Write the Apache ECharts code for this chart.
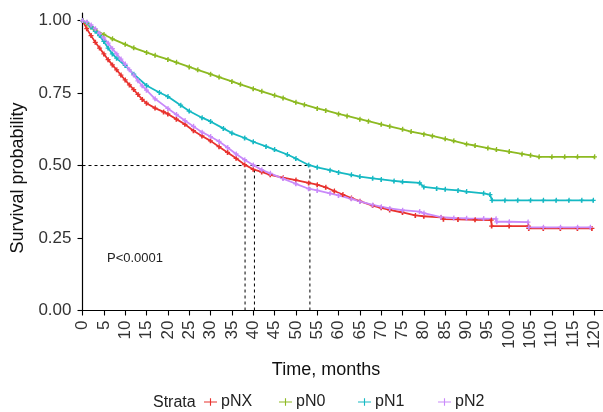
<!DOCTYPE html>
<html>
<head>
<meta charset="utf-8">
<script src="https://cdn.jsdelivr.net/npm/echarts@6/dist/echarts.min.js"></script>
<style>
html,body{margin:0;padding:0;background:#fff;}
#chart{width:603px;height:412px;}
</style>
</head>
<body>
<div id="chart"></div>
<script>
// ---- data (time in months, survival probability) ----
var strata = ['pNX', 'pN0', 'pN1', 'pN2'];
var xTicks = [0,5,10,15,20,25,30,35,40,45,50,55,60,65,70,75,80,85,90,95,100,105,110,115,120];
var yTicks = [0, 0.25, 0.5, 0.75, 1.0];

var pNX = [[0,1.000],[1,0.972],[2,0.948],[3,0.925],[4,0.905],[5,0.885],[6,0.865],[7,0.847],[8,0.830],[9,0.812],[10,0.795],
  [11,0.778],[12,0.762],[13,0.745],[14,0.728],[15,0.715],[17,0.698],[19,0.685],[20,0.678],[22,0.660],[24,0.642],[26,0.620],
  [28,0.602],[30,0.585],[32,0.565],[34,0.545],[36,0.525],[38,0.503],[40,0.487],[42,0.478],[44,0.468],[47,0.458],[50,0.450],
  [53,0.440],[55,0.434],[57,0.425],[59,0.412],[61,0.400],[63,0.388],[65,0.377],[68,0.362],[70,0.354],[72,0.347],[75,0.338],
  [78,0.328],[80,0.325],[84,0.321],[84.6,0.315],[88,0.314],[92,0.313],[95.8,0.312],[95.9,0.291],[100,0.291],[104.5,0.291],
  [104.6,0.283],[108,0.283],[112,0.283],[116,0.283],[119.4,0.283]];

var pN0 = [[0,1.000],[1,0.990],[2,0.978],[3,0.967],[5,0.952],[7,0.937],[10,0.918],[12,0.906],[15,0.890],[17,0.880],[20,0.866],
  [22,0.856],[25,0.840],[27,0.830],[30,0.815],[32,0.805],[35,0.790],[37,0.780],[40,0.765],[42,0.756],[45,0.742],[47,0.733],
  [50,0.718],[52,0.710],[55,0.697],[57,0.690],[60,0.678],[62,0.671],[65,0.660],[67,0.653],[70,0.642],[72,0.635],[75,0.625],
  [77,0.617],[80,0.608],[82,0.602],[85,0.592],[87,0.585],[90,0.574],[92,0.569],[95,0.560],[97,0.555],[100,0.548],[103,0.540],
  [105,0.535],[107,0.530],[110,0.530],[113,0.530],[116,0.530],[120,0.530]];

var pN1 = [[0,1.000],[1,0.993],[2,0.978],[3,0.963],[4,0.948],[5,0.928],[6,0.905],[7,0.885],[8,0.870],[10,0.845],[12,0.815],
  [15,0.776],[18,0.752],[20,0.738],[23,0.708],[25,0.688],[28,0.665],[30,0.652],[33,0.628],[35,0.612],[38,0.595],[40,0.582],
  [43,0.566],[45,0.555],[48,0.538],[50,0.524],[53,0.502],[55,0.494],[58,0.484],[60,0.476],[63,0.468],[65,0.462],[68,0.456],
  [70,0.452],[73,0.447],[75,0.444],[79,0.440],[80,0.426],[83,0.421],[85,0.418],[88,0.414],[90,0.410],[94,0.404],[95.5,0.400],
  [96,0.380],[99,0.380],[102,0.380],[105,0.380],[108,0.380],[111,0.380],[114,0.380],[117,0.380],[119.7,0.380]];

var pN2 = [[0,1.000],[1,0.995],[2,0.985],[3,0.972],[4,0.956],[5,0.940],[6,0.922],[7,0.903],[8,0.885],[9,0.867],[10,0.850],
  [11,0.830],[12,0.812],[13,0.792],[14,0.775],[15,0.760],[17,0.730],[20,0.697],[22,0.676],[24,0.655],[26,0.635],[28,0.615],
  [30,0.600],[32,0.583],[34,0.562],[36,0.540],[38,0.520],[40,0.502],[42,0.485],[44,0.473],[47,0.455],[50,0.437],[53,0.420],
  [55,0.414],[58,0.404],[60,0.397],[63,0.385],[65,0.376],[68,0.364],[70,0.358],[72,0.352],[75,0.346],[79,0.341],[80,0.336],
  [84,0.322],[87,0.319],[90,0.318],[94,0.317],[96.9,0.316],[97.1,0.306],[100,0.306],[104.4,0.305],[104.6,0.287],[108,0.287],
  [112,0.287],[116,0.287],[119,0.287]];

var medians = [38.1, 40.3, 53.3];
var medianLevel = 0.5;
var pText = 'P<0.0001';
// -------------------------------------------------------------------------

var colors = {pNX:'#E8322E', pN0:'#8DBA22', pN1:'#16B9C3', pN2:'#C98AFA'};
var seriesData = {pNX:pNX, pN0:pN0, pN1:pN1, pN2:pN2};
var plusPath = 'path://M3,0h2v3h3v2h-3v3h-3v-3h-3v-2h3z';
var legendIcon = 'path://M0,3.4h14v1.2h-14z M6.4,0h1.2v8h-1.2z';
var FONT = 'Liberation Sans, Arial, Helvetica, sans-serif';

var series = strata.map(function(s){
  return {
    name: s, type:'line', data: seriesData[s],
    showSymbol:true, symbol: plusPath, symbolSize:5,
    itemStyle:{color:colors[s]},
    lineStyle:{color:colors[s], width:1.8},
    emphasis:{disabled:true}, z:3
  };
});

// dashed median guide lines
var maxMed = Math.max.apply(null, medians);
series.push({
  type:'line', data:[[0,medianLevel],[maxMed,medianLevel]], symbol:'none', silent:true,
  lineStyle:{color:'#000', width:1, type:[3,3]}, z:2
});
medians.forEach(function(m){
  series.push({
    type:'line', data:[[m,0],[m,medianLevel]], symbol:'none', silent:true,
    lineStyle:{color:'#000', width:1, type:[3,3]}, z:2
  });
});

var legendLefts = [204, 279, 358, 438];
var legends = strata.map(function(s, i){
  return {
    data:[{name:s, icon:legendIcon}], left: legendLefts[i], top: 394,
    itemWidth:13, itemHeight:8, itemGap:0, padding:0,
    textStyle:{fontFamily:FONT, fontSize:16, color:'#222', padding:[0,0,0,-1]},
    selectedMode:false
  };
});

var chart = echarts.init(document.getElementById('chart'), null, {renderer:'canvas'});
chart.setOption({
  animation:false,
  backgroundColor:'#fff',
  grid:{left:82.5, top:13, width:520.5, height:297.5, containLabel:false},
  xAxis:{
    type:'value', min:0, max:122,
    axisLine:{show:true, lineStyle:{color:'#000', width:1.2}},
    axisTick:{show:true, length:5, lineStyle:{color:'#000', width:1.1}, customValues:xTicks},
    axisLabel:{rotate:90, margin:10, fontFamily:FONT, fontSize:17, color:'#333', customValues:xTicks},
    splitLine:{show:false}
  },
  yAxis:{
    type:'value', min:0, max:1.026,
    axisLine:{show:true, lineStyle:{color:'#000', width:1.2}},
    axisTick:{show:true, length:5, lineStyle:{color:'#000', width:1.1}, customValues:yTicks},
    axisLabel:{margin:11, fontFamily:FONT, fontSize:17, color:'#333', customValues:yTicks,
      formatter:function(v){return v.toFixed(2);}},
    splitLine:{show:false}
  },
  legend: legends,
  graphic:[
    {type:'text', x:153, y:403, style:{text:'Strata', font:'16px ' + FONT, fill:'#222', verticalAlign:'middle'}},
    {type:'text', x:326, y:370, style:{text:'Time, months', font:'18px ' + FONT, fill:'#111', align:'center', verticalAlign:'middle'}},
    {type:'text', x:18, y:178, rotation:Math.PI/2, style:{text:'Survival probability', font:'18px ' + FONT, fill:'#111', align:'center', verticalAlign:'middle'}},
    {type:'text', x:107, y:258, style:{text:pText, font:'13px ' + FONT, fill:'#222', verticalAlign:'middle'}}
  ],
  series: series
});
</script>
</body>
</html>
